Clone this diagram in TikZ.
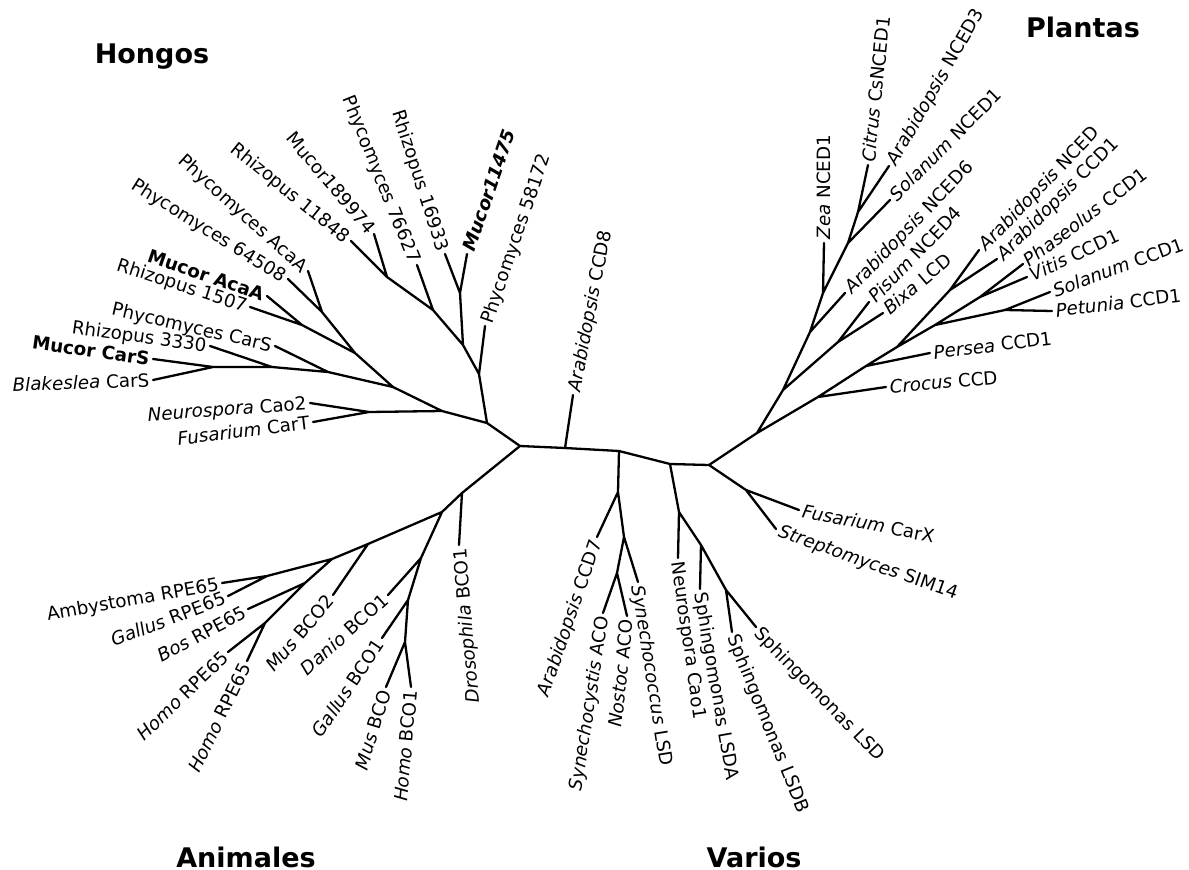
\documentclass[tikz,border=0pt]{standalone}
\usepackage{fontspec}
\setmainfont{DejaVu Sans}
\begin{document}
\begin{tikzpicture}[x=1pt,y=-1pt,
  br/.style={line width=2.3pt, line cap=round, line join=round},
  lbl/.style={font=\fontsize{18.3}{22}\selectfont, inner xsep=3.5pt, inner ysep=0pt, text height=13.4pt, text depth=0pt},
  lt/.style={lbl, anchor=east, rotate=#1},
  rt/.style={lbl, anchor=west, rotate=#1},
  ttl/.style={font=\fontsize{27}{30}\selectfont\bfseries, anchor=base, inner sep=0pt}]
\useasboundingbox (0,0) rectangle (1189,870);
% root
\coordinate (r) at (520,446);
% Hongos internal
\coordinate (h1) at (487,423);
\coordinate (h2) at (479,374);
\coordinate (h3) at (463,345);
\coordinate (h4) at (460,293);
\coordinate (h5) at (433,310);
\coordinate (h6) at (387,277);
\coordinate (h7) at (442,411);
\coordinate (h8) at (369,412);
\coordinate (h9) at (393,387);
\coordinate (h10) at (355,353);
\coordinate (h11) at (322,312);
\coordinate (h12) at (302,325);
\coordinate (h13) at (328,372);
\coordinate (h14) at (272,367);
\coordinate (h15) at (213,367);
% Hongos leaves
\coordinate (fP58) at (485,326);
\coordinate (fR169) at (445,254);
\coordinate (fM114) at (467,254);
\coordinate (fP766) at (417,265);
\coordinate (fM189) at (374,234);
\coordinate (fR118) at (351,241);
\coordinate (fNC2) at (310,403);
\coordinate (fFCT) at (313,422);
\coordinate (fPAA) at (308,271);
\coordinate (fP645) at (288,279);
\coordinate (fMAA) at (267,296);
\coordinate (fR15) at (250,307);
\coordinate (fPCS) at (275,346);
\coordinate (fR33) at (210,346);
\coordinate (fMCS) at (153,359);
\coordinate (fBCS) at (153,380);
% Animales internal
\coordinate (a1) at (462,493);
\coordinate (a2) at (442,512);
\coordinate (a3) at (421,558);
\coordinate (a4) at (408,600);
\coordinate (a5) at (405,642);
\coordinate (a6) at (368,544);
\coordinate (a7) at (332,559);
\coordinate (a8) at (267,576);
\coordinate (a9) at (305,583);
\coordinate (a10) at (265,623);
% Animales leaves
\coordinate (aDro) at (459,545);
\coordinate (aDan) at (388,595);
\coordinate (aGBC) at (382,638);
\coordinate (aMBC) at (386,687);
\coordinate (aHBC) at (411,687);
\coordinate (aMB2) at (333,595);
\coordinate (aAmb) at (222,583);
\coordinate (aGRP) at (228,596);
\coordinate (aBos) at (248,609);
\coordinate (aHR1) at (228,652);
\coordinate (aHR2) at (247,661);
% Varios internal
\coordinate (v1) at (565,448);
\coordinate (v2) at (619,451);
\coordinate (v3) at (618,492);
\coordinate (v4) at (624,537);
\coordinate (v5) at (617,573);
\coordinate (v6) at (670,464);
\coordinate (v7) at (679,512);
\coordinate (v8) at (701,545);
\coordinate (v9) at (726,590);
\coordinate (v10) at (709,465);
\coordinate (v11) at (746,490);
% Varios leaves
\coordinate (vC8) at (573,395);
\coordinate (vC7) at (597,537);
\coordinate (vSLSD) at (638,582);
\coordinate (vSyA) at (603,613);
\coordinate (vNoA) at (627,616);
\coordinate (vNC1) at (678,558);
\coordinate (vLSDA) at (700,589);
\coordinate (vLSDB) at (732,632);
\coordinate (vLSD) at (756,627);
\coordinate (vFCX) at (799,510);
\coordinate (vStr) at (776,529);
% Plantas internal
\coordinate (p0) at (757,433);
\coordinate (pa) at (783,390);
\coordinate (pb) at (810,332);
\coordinate (pc) at (823,293);
\coordinate (pd) at (848,243);
\coordinate (pe) at (858,212);
\coordinate (pf) at (838,342);
\coordinate (pg) at (818,397);
\coordinate (ph) at (866,366);
\coordinate (pi) at (897,347);
\coordinate (pj) at (950,290);
\coordinate (pk) at (935,325);
\coordinate (pl) at (980,297);
\coordinate (pm) at (1005,310);
% Plantas leaves
\coordinate (pN6) at (845,293);
\coordinate (pZea) at (824,243);
\coordinate (pSN1) at (890,200);
\coordinate (pCit) at (868,165);
\coordinate (pAN3) at (889,166);
\coordinate (pPis) at (869,302);
\coordinate (pBix) at (883,313);
\coordinate (pCro) at (886,387);
\coordinate (pPer) at (930,353);
\coordinate (pAN) at (979,250);
\coordinate (pAC1) at (997,259);
\coordinate (pPha) at (1023,264);
\coordinate (pVit) at (1027,277);
\coordinate (pSC1) at (1050,292);
\coordinate (pPet) at (1052,311);

% branches
\draw[br] (r) -- (h1) (h1) -- (h2) (h2) -- (fP58) (h2) -- (h3) (h3) -- (h4)
  (h4) -- (fR169) (h4) -- (fM114) (h3) -- (h5) (h5) -- (fP766) (h5) -- (h6)
  (h6) -- (fM189) (h6) -- (fR118) (h1) -- (h7) (h7) -- (h8) (h8) -- (fNC2)
  (h8) -- (fFCT) (h7) -- (h9) (h9) -- (h10) (h10) -- (h11) (h11) -- (fPAA)
  (h11) -- (fP645) (h10) -- (h12) (h12) -- (fMAA) (h12) -- (fR15)
  (h9) -- (h13) (h13) -- (fPCS) (h13) -- (h14) (h14) -- (fR33) (h14) -- (h15)
  (h15) -- (fMCS) (h15) -- (fBCS);
\draw[br] (r) -- (a1) (a1) -- (aDro) (a1) -- (a2) (a2) -- (a3) (a3) -- (aDan)
  (a3) -- (a4) (a4) -- (aGBC) (a4) -- (a5) (a5) -- (aMBC) (a5) -- (aHBC)
  (a2) -- (a6) (a6) -- (aMB2) (a6) -- (a7) (a7) -- (a8) (a8) -- (aAmb)
  (a8) -- (aGRP) (a7) -- (a9) (a9) -- (aBos) (a9) -- (a10) (a10) -- (aHR1)
  (a10) -- (aHR2);
\draw[br] (r) -- (v1) (v1) -- (vC8) (v1) -- (v2) (v2) -- (v3) (v3) -- (vC7)
  (v3) -- (v4) (v4) -- (vSLSD) (v4) -- (v5) (v5) -- (vSyA) (v5) -- (vNoA)
  (v2) -- (v6) (v6) -- (v7) (v7) -- (vNC1) (v7) -- (v8) (v8) -- (vLSDA)
  (v8) -- (v9) (v9) -- (vLSDB) (v9) -- (vLSD) (v6) -- (v10) (v10) -- (v11)
  (v11) -- (vFCX) (v11) -- (vStr);
\draw[br] (v10) -- (p0) (p0) -- (pa) (pa) -- (pb) (pb) -- (pN6) (pb) -- (pc)
  (pc) -- (pZea) (pc) -- (pd) (pd) -- (pSN1) (pd) -- (pe) (pe) -- (pCit)
  (pe) -- (pAN3) (pa) -- (pf) (pf) -- (pPis) (pf) -- (pBix) (p0) -- (pg)
  (pg) -- (pCro) (pg) -- (ph) (ph) -- (pPer) (ph) -- (pi) (pi) -- (pj)
  (pj) -- (pAN) (pj) -- (pAC1) (pi) -- (pk) (pk) -- (pl) (pl) -- (pPha)
  (pl) -- (pVit) (pk) -- (pm) (pm) -- (pSC1) (pm) -- (pPet);

% Hongos labels
\node[rt=71] (tP58) at (fP58) {Phycomyces 58172};
\node[rt=71] (tM114) at (fM114) {\textbf{\textit{Mucor11475}}};
\node[lt=-72] (tR169) at (fR169) {Rhizopus 16933};
\node[lt=-68] (tP766) at (fP766) {Phycomyces 76627};
\node[lt=-50] (tM189) at (fM189) {Mucor189974};
\node[lt=-39] (tR118) at (fR118) {Rhizopus 11848};
\node[lt=-42] (tPAA) at (fPAA) {Phycomyces AcaA};
\node[lt=-32] (tP645) at (fP645) {Phycomyces 64508};
\node[lt=-19] (tMAA) at (fMAA) {\textbf{Mucor AcaA}};
\node[lt=-18] (tR15) at (fR15) {Rhizopus 1507};
\node[lt=-13] (tPCS) at (fPCS) {Phycomyces CarS};
\node[lt=-8] (tR33) at (fR33) {Rhizopus 3330};
\node[lt=-8] (tMCS) at (fMCS) {\textbf{Mucor CarS}};
\node[lt=2] (tBCS) at (fBCS) {\textit{Blakeslea} CarS};
\node[lt=4] (tNC2) at (fNC2) {\textit{Neurospora} Cao2};
\node[lt=7] (tFCT) at (fFCT) {\textit{Fusarium} CarT};
% Plantas labels
\node[rt=90] (tZea) at (pZea) {\textit{Zea} NCED1};
\node[rt=84] (tCit) at (pCit) {\textit{Citrus} CsNCED1};
\node[rt=60] (tAN3) at (pAN3) {\textit{Arabidopsis} NCED3};
\node[rt=45] (tSN1) at (pSN1) {\textit{Solanum} NCED1};
\node[rt=46] (tN6) at (pN6) {\textit{Arabidopsis} NCED6};
\node[rt=46] (tPis) at (pPis) {\textit{Pisum} NCED4};
\node[rt=40] (tBix) at (pBix) {\textit{Bixa} LCD};
\node[rt=46] (tAN) at (pAN) {\textit{Arabidopsis} NCED};
\node[rt=45] (tAC1) at (pAC1) {\textit{Arabidopsis} CCD1};
\node[rt=37] (tPha) at (pPha) {\textit{Phaseolus} CCD1};
\node[rt=25] (tVit) at (pVit) {\textit{Vitis} CCD1};
\node[rt=20] (tSC1) at (pSC1) {\textit{Solanum} CCD1};
\node[rt=7] (tPet) at (pPet) {\textit{Petunia} CCD1};
\node[rt=7] (tPer) at (pPer) {\textit{Persea} CCD1};
\node[rt=5] (tCro) at (pCro) {\textit{Crocus} CCD};
% Varios labels
\node[rt=79] (tC8) at (vC8) {\textit{Arabidopsis} CCD8};
\node[rt=-11] (tFCX) at (vFCX) {\textit{Fusarium} CarX};
\node[rt=-19.5] (tStr) at (vStr) {\textit{Streptomyces} SIM14};
\node[rt=-46] (tLSD) at (vLSD) {Sphingomonas LSD};
\node[rt=-68] (tLSDB) at (vLSDB) {Sphingomonas LSDB};
\node[rt=-80] (tLSDA) at (vLSDA) {Sphingomonas LSDA};
\node[rt=-82] (tNC1) at (vNC1) {Neurospora Cao1};
\node[rt=-81] (tSLSD) at (vSLSD) {\textit{Synechococcus} LSD};
\node[lt=84] (tNoA) at (vNoA) {\textit{Nostoc} ACO};
\node[lt=81] (tSyA) at (vSyA) {\textit{Synechocystis} ACO};
\node[lt=71] (tC7) at (vC7) {\textit{Arabidopsis} CCD7};
% Animales labels
\node[lt=10] (tAmb) at (aAmb) {Ambystoma RPE65};
\node[lt=21] (tGRP) at (aGRP) {\textit{Gallus} RPE65};
\node[lt=28] (tBos) at (aBos) {\textit{Bos} RPE65};
\node[lt=44] (tHR1) at (aHR1) {\textit{Homo} RPE65};
\node[lt=64] (tHR2) at (aHR2) {\textit{Homo} RPE65};
\node[lt=49] (tMB2) at (aMB2) {\textit{Mus} BCO2};
\node[lt=42] (tDan) at (aDan) {\textit{Danio} BCO1};
\node[lt=56] (tGBC) at (aGBC) {\textit{Gallus} BCO1};
\node[lt=73] (tMBC) at (aMBC) {\textit{Mus} BCO};
\node[lt=85] (tHBC) at (aHBC) {\textit{Homo} BCO1};
\node[lt=95] (tDro) at (aDro) {\textit{Drosophila} BCO1};
% titles
\node[ttl] (gH) at (152,63) {Hongos};
\node[ttl] (gP) at (1083,37) {Plantas};
\node[ttl] (gA) at (246,867) {Animales};
\node[ttl] (gV) at (754,867) {Varios};
\end{tikzpicture}
\end{document}
